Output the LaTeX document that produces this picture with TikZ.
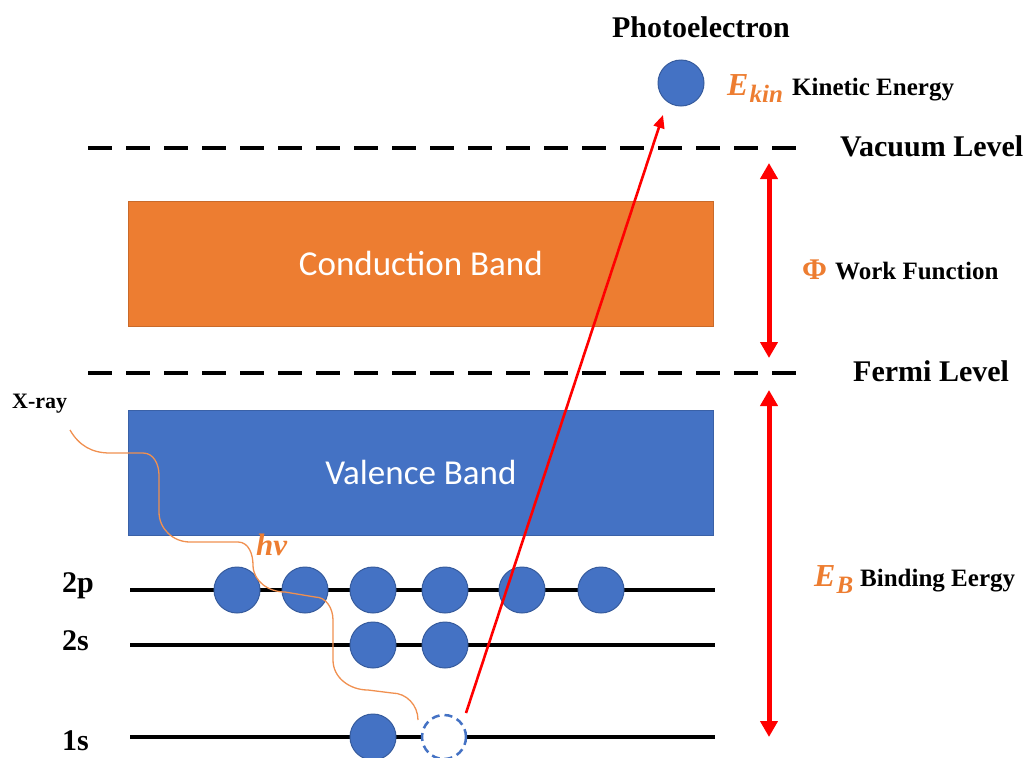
\documentclass[tikz,border=0pt]{standalone}
\usepackage{fontspec}
\setmainfont{Liberation Serif}
\newfontfamily\calfont{Carlito}
\usetikzlibrary{arrows.meta}
\definecolor{bandorange}{HTML}{ED7D31}
\definecolor{bandblue}{HTML}{4472C4}
\definecolor{arrred}{HTML}{FF0000}
\begin{document}
\begin{tikzpicture}[x=1pt,y=-1pt,
  level/.style={line width=4pt, black},
  dashlevel/.style={line width=4pt, black, dash pattern=on 24pt off 14pt},
  electron/.style={circle, fill=bandblue, draw=bandblue!80!black, line width=1pt, minimum size=46pt, inner sep=0pt},
  hole/.style={circle, fill=white, draw=bandblue, line width=2.5pt, dash pattern=on 8pt off 5pt, minimum size=44pt, inner sep=0pt},
  band/.style={line width=0.8pt, minimum width=585pt, minimum height=125pt, anchor=north west, inner sep=0pt, text=white, font=\calfont\fontsize{35}{40}\selectfont},
  big/.style={font=\bfseries\fontsize{30}{36}\selectfont, inner sep=0pt},
  mid/.style={font=\bfseries\fontsize{25}{30}\selectfont, inner sep=0pt},
  sym/.style={text=bandorange, inner sep=0pt},
  redarrow/.style={draw=arrred, line width=5pt, {Triangle[length=16pt,width=17pt]}-{Triangle[length=16pt,width=17pt]}},
  photoarrow/.style={draw=arrred, line width=2.6pt, -{Triangle[length=13pt,width=11pt]}},
  xray/.style={draw=bandorange!85!white, line width=1.3pt}
]
\useasboundingbox (0,0) rectangle (1029,758);

% bands
\node[band, fill=bandorange, draw=bandorange!85!black] (cb) at (128,201) {Conduction Band};
\node[band, fill=bandblue, draw=bandblue!85!black] (vb) at (128,410) {Valence Band};

% dashed levels
\coordinate (vacL) at (88,148); \coordinate (vacR) at (805,148);
\coordinate (ferL) at (88,373); \coordinate (ferR) at (805,373);
\draw[dashlevel] (vacL) -- (vacR);
\draw[dashlevel] (ferL) -- (ferR);

% core levels
\coordinate (p2L) at (130,590); \coordinate (p2R) at (715,590);
\coordinate (s2L) at (130,645); \coordinate (s2R) at (715,645);
\coordinate (s1L) at (130,737); \coordinate (s1R) at (715,737);
\draw[level] (p2L) -- (p2R);
\draw[level] (s2L) -- (s2R);
\draw[level] (s1L) -- (s1R);

% electrons
\node[electron] (e1) at (237,590) {};
\node[electron] (e2) at (305,590) {};
\node[electron] (e3) at (373,590) {};
\node[electron] (e4) at (445,590) {};
\node[electron] (e5) at (522,590) {};
\node[electron] (e6) at (601,590) {};
\node[electron] (e7) at (373,645) {};
\node[electron] (e8) at (445,645) {};
\node[electron] (e9) at (373,737) {};
\node[hole] (h) at (444,737) {};
\node[electron] (pe) at (681,83) {};

% x-ray
\coordinate (xs) at (70,430);
\coordinate (xe) at (418,720);
\draw[xray] (xs) to[out=-60,in=180] (110,453) -- (143,453) to[out=0,in=90] (159,475) -- (159,512)
  to[out=-90,in=180] (190,542) -- (238,542) to[out=0,in=90] (253,565)
  to[out=-90,in=180] (285,592) -- (315,597) to[out=0,in=90] (333,620) -- (333,660)
  to[out=-90,in=180] (368,690) -- (392,693) to[out=0,in=90] (xe);

% photoelectron arrow
\coordinate (ps) at (466,713);
\coordinate (pt) at (663,115);
\draw[photoarrow] (ps) -- (pt);

% energy arrows
\coordinate (wfT) at (769,163); \coordinate (wfB) at (769,358);
\coordinate (ebT) at (769,390); \coordinate (ebB) at (769,737);
\draw[redarrow] (wfT) -- (wfB);
\draw[redarrow] (ebT) -- (ebB);

% labels
\node[big] (lpe) at (701,27) {Photoelectron};
\node[sym, anchor=base west, font=\bfseries\itshape\fontsize{32}{36}\selectfont] (ek) at (727,95) {E\kern1pt\raisebox{-7pt}{\fontsize{25}{28}\selectfont kin}};
\node[mid, anchor=base west] (lke) at (792,95) {Kinetic Energy};
\node[big, anchor=base west] (lvac) at (840,156) {Vacuum Level};
\node[sym, anchor=base west, font=\bfseries\fontsize{30}{36}\selectfont] (phi) at (802,279) {Φ};
\node[mid, anchor=base west] (lwf) at (835,279) {Work Function};
\node[big, anchor=base west] (lfer) at (853,381) {Fermi Level};
\node[sym, anchor=base west, font=\bfseries\itshape\fontsize{32}{36}\selectfont] (eb) at (814,586) {E\kern1pt\raisebox{-7pt}{\fontsize{25}{28}\selectfont B}};
\node[mid, anchor=base west] (lbe) at (860,586) {Binding Eergy};
\node[big, anchor=base west] (l2p) at (62,592) {2p};
\node[big, anchor=base west] (l2s) at (62,650) {2s};
\node[big, anchor=base west] (l1s) at (62,750) {1s};
\node[anchor=base west, inner sep=0pt, font=\bfseries\fontsize{22}{26}\selectfont] (lx) at (12,408) {X-ray};
\node[sym, anchor=base west, font=\bfseries\itshape\fontsize{31}{36}\selectfont] (hv) at (256,555) {hν};
\end{tikzpicture}
\end{document}
